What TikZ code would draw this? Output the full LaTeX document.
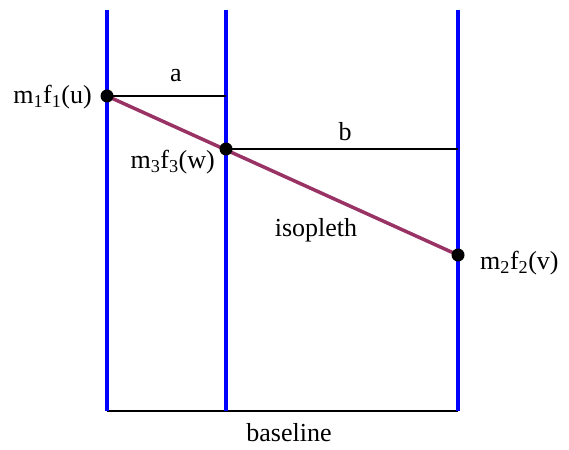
\documentclass[tikz,border=0pt]{standalone}
\usepackage{fontspec}
\setmainfont{Liberation Serif}
\usetikzlibrary{positioning}
\definecolor{scaleblue}{HTML}{0000FF}
\definecolor{isoplum}{HTML}{993366}

\begin{document}
\begin{tikzpicture}[x=1pt, y=-1pt,
  scaleline/.style={draw=scaleblue, line width=3.5pt},
  dist/.style={draw=black, line width=1.2pt},
  iso/.style={draw=isoplum, line width=3.5pt},
  dot/.style={circle, fill=black, inner sep=0pt, minimum size=13pt},
  lbl/.style={font=\fontsize{26}{30}\selectfont, inner sep=2pt}]
\useasboundingbox (0,0) rectangle (569,449);

% scales
\coordinate (s1top) at (107,10); \coordinate (s1bot) at (107,411);
\coordinate (s3top) at (226,10); \coordinate (s3bot) at (226,411);
\coordinate (s2top) at (458,10); \coordinate (s2bot) at (458,411);
\coordinate (ahead) at (226,96); \coordinate (bhead) at (458,149);
\coordinate (pu) at (107,96);
\coordinate (pw) at (226,149);
\coordinate (pv) at (458,255);

\draw[dist] (s1bot) -- (s2bot);
\draw[scaleline] (s1top) -- (s1bot);
\draw[scaleline] (s3top) -- (s3bot);
\draw[scaleline] (s2top) -- (s2bot);

\draw[dist] (pu) -- (ahead);
\draw[dist] (pw) -- (bhead);
\draw[iso] (pu) -- (pv);

\node[dot] at (pu) (u) {};
\node[dot] at (pw) (w) {};
\node[dot] at (pv) (v) {};

\node[lbl, anchor=east] at (94,97) (ulbl) {m\textsubscript{1}f\textsubscript{1}(u)};
\node[lbl, anchor=east] at (217,162) (wlbl) {m\textsubscript{3}f\textsubscript{3}(w)};
\node[lbl, anchor=west] at (478,263) (vlbl) {m\textsubscript{2}f\textsubscript{2}(v)};
\node[lbl] at (176,76) (albl) {a};
\node[lbl] at (345,132) (blbl) {b};
\node[lbl] at (316,230) (isolbl) {isopleth};
\node[lbl, inner sep=0pt, anchor=base] at (289,441) (baselbl) {baseline};
\end{tikzpicture}
\end{document}
